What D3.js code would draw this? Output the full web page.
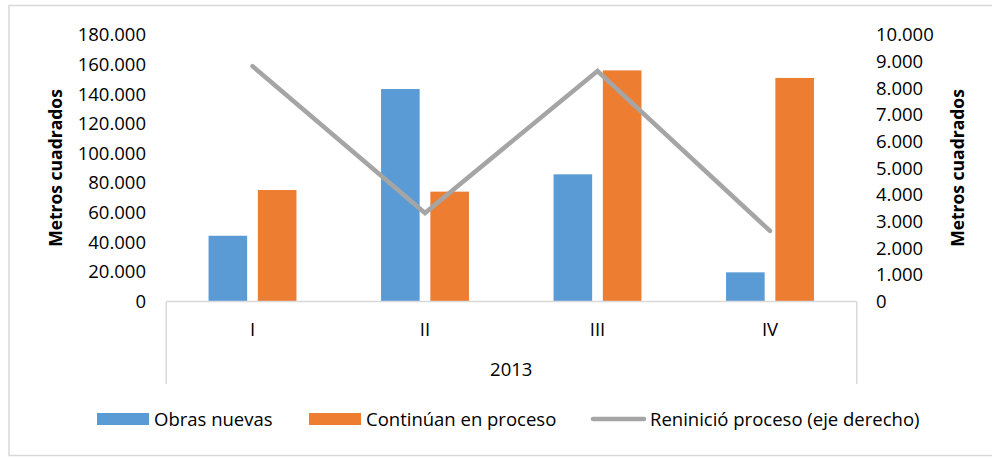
<!DOCTYPE html>
<html>
<head>
<meta charset="utf-8">
<script src="https://cdn.jsdelivr.net/npm/d3@7"></script>
<style>
  html, body { margin: 0; padding: 0; background: #fff; }
  svg text { font-family: "Open Sans", sans-serif; fill: #000; }
</style>
</head>
<body>
<svg id="chart" width="992" height="458"></svg>
<script>
// ---- data ----
const categories = ["I", "II", "III", "IV"];
const groupLabel = "2013";
const obrasNuevas = [44400, 143500, 85900, 19700];
const continuan = [75300, 74200, 156100, 151000];
const reinicio = [8830, 3320, 8650, 2650];
const leftTicks = [0, 20000, 40000, 60000, 80000, 100000, 120000, 140000, 160000, 180000];
const rightTicks = [0, 1000, 2000, 3000, 4000, 5000, 6000, 7000, 8000, 9000, 10000];
const seriesNames = ["Obras nuevas", "Continúan en proceso", "Reninició proceso (eje derecho)"];
const axisTitle = "Metros cuadrados";

const colors = { obras: "#5b9bd5", cont: "#ed7d31", line: "#a5a5a5", grid: "#d9d9d9" };
const fs = 18.5;

const svg = d3.select("#chart");
const locale = d3.formatLocale({ decimal: ",", thousands: ".", grouping: [3], currency: ["", ""] });
const fmt = locale.format(",d");

// outer border
svg.append("rect").attr("x", 9).attr("y", 5.5).attr("width", 1000).attr("height", 450)
  .attr("fill", "none").attr("stroke", colors.grid).attr("stroke-width", 1.5);

const plotLeft = 166.25, plotRight = 856.25, plotTop = 35, plotBottom = 301.5;

const x0 = d3.scaleBand().domain(categories).range([plotLeft, plotRight]).padding(0);
const x1 = d3.scaleBand().domain(["obras", "cont"]).range([0, x0.bandwidth()])
  .paddingInner(0.217).paddingOuter(0.858);
const yL = d3.scaleLinear().domain([0, 180000]).range([plotBottom, plotTop]);
const yR = d3.scaleLinear().domain([0, 10000]).range([plotBottom, plotTop]);

// left axis
const axL = d3.axisLeft(yL).tickValues(leftTicks).tickFormat(fmt).tickSize(0).tickPadding(0);
const gL = svg.append("g").attr("transform", "translate(146,0)").call(axL);
gL.select(".domain").remove();
gL.selectAll("text").attr("font-size", fs).attr("font-family", "Open Sans, sans-serif").attr("fill", "#000");

// right axis
const axR = d3.axisRight(yR).tickValues(rightTicks).tickFormat(fmt).tickSize(0).tickPadding(0);
const gR = svg.append("g").attr("transform", "translate(876,0)").call(axR);
gR.select(".domain").remove();
gR.selectAll("text").attr("font-size", fs).attr("font-family", "Open Sans, sans-serif").attr("fill", "#000");

// bars
const rows = categories.map((c, i) => ({ c, obras: obrasNuevas[i], cont: continuan[i] }));
const g = svg.append("g");
["obras", "cont"].forEach(k => {
  g.selectAll("rect." + k).data(rows).enter().append("rect")
    .attr("class", k)
    .attr("x", d => x0(d.c) + x1(k))
    .attr("width", x1.bandwidth())
    .attr("y", d => yL(d[k]))
    .attr("height", d => yL(0) - yL(d[k]))
    .attr("fill", colors[k]);
});

// category axis box
const cat = svg.append("g").attr("stroke", colors.grid).attr("stroke-width", 1.5).attr("fill", "none");
cat.append("line").attr("x1", plotLeft).attr("x2", plotRight + 0.5).attr("y1", plotBottom).attr("y2", plotBottom);
cat.append("line").attr("x1", plotLeft).attr("x2", plotLeft).attr("y1", plotBottom).attr("y2", 384);
cat.append("line").attr("x1", plotRight + 0.5).attr("x2", plotRight + 0.5).attr("y1", plotBottom).attr("y2", 384);

svg.append("g").selectAll("text.cat").data(categories).enter().append("text")
  .attr("x", d => x0(d) + x0.bandwidth() / 2).attr("y", 335.5)
  .attr("text-anchor", "middle").attr("font-size", fs).text(d => d);
svg.append("text").attr("x", (plotLeft + plotRight) / 2).attr("y", 376)
  .attr("text-anchor", "middle").attr("font-size", fs).text(groupLabel);

// line
const line = d3.line().x((d, i) => x0(categories[i]) + x0.bandwidth() / 2).y(d => yR(d));
svg.append("path").datum(reinicio).attr("d", line)
  .attr("fill", "none").attr("stroke", colors.line).attr("stroke-width", 4.5)
  .attr("stroke-linecap", "round").attr("stroke-linejoin", "miter");

// axis titles
svg.append("text").attr("transform", "translate(62,168) rotate(-90)")
  .attr("text-anchor", "middle").attr("font-size", 17.5).attr("font-weight", "bold").text(axisTitle);
svg.append("text").attr("transform", "translate(964,168) rotate(-90)")
  .attr("text-anchor", "middle").attr("font-size", 17.5).attr("font-weight", "bold").text(axisTitle);

// legend
const leg = svg.append("g");
leg.append("rect").attr("x", 97).attr("y", 413).attr("width", 52).attr("height", 12).attr("fill", colors.obras);
leg.append("text").attr("x", 154).attr("y", 425.5).attr("font-size", fs).text(seriesNames[0]);
leg.append("rect").attr("x", 309).attr("y", 413).attr("width", 52).attr("height", 12).attr("fill", colors.cont);
leg.append("text").attr("x", 366).attr("y", 425.5).attr("font-size", fs).text(seriesNames[1]);
leg.append("line").attr("x1", 593).attr("x2", 644).attr("y1", 419).attr("y2", 419)
  .attr("stroke", colors.line).attr("stroke-width", 4.5).attr("stroke-linecap", "round");
leg.append("text").attr("x", 650).attr("y", 425.5).attr("font-size", fs).text(seriesNames[2]);
</script>
</body>
</html>
